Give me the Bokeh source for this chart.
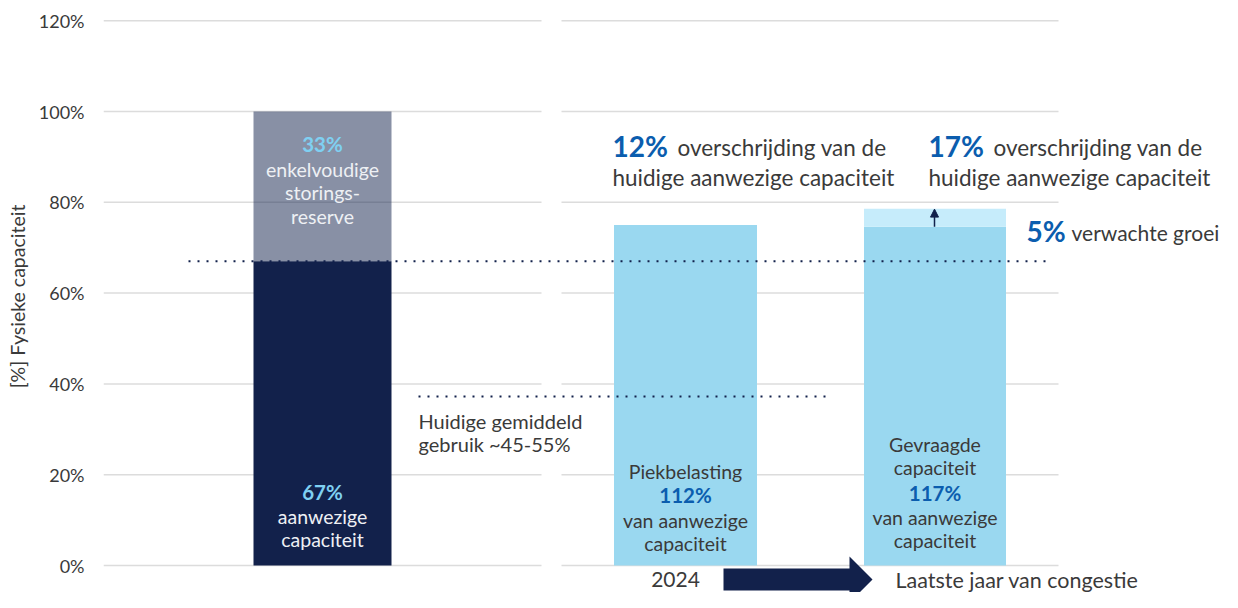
from bokeh.plotting import figure
from bokeh.models import Range1d, FixedTicker, Arrow, NormalHead
from bokeh.core.properties import value
from bokeh.embed import file_html
from bokeh.resources import INLINE

# ---------------- data ----------------
y_ticks = [0, 20, 40, 60, 80, 100, 120]
y_tick_labels = ["0%", "20%", "40%", "60%", "80%", "100%", "120%"]

bar_names = ["Aanwezige capaciteit", "Piekbelasting 2024", "Gevraagde capaciteit"]
available_capacity = [67]          # % of physical capacity
reserve_capacity = [33]            # single-failure reserve
peak_load = [75.0]                 # 112% of available
demand_base = [74.6]
demand_growth = [4.0]              # 5% expected growth
reserve_line = [67, 67]
average_usage_line = [37.2, 37.2]

# ---------------- layout ----------------
FONT = "Lato"
W, H = 1222, 592
Y0_PX, PX_PER_PCT = 565.0, 4.54      # px of 0%, px per 1%
FRAME_LEFT = 103

def Y(px):
    return (Y0_PX - px) / PX_PER_PCT

NAVY = "#12214b"
LIGHT = "#9ad8f0"
LIGHTER = "#c6ecfb"
BLUE_TXT = "#0b5dae"
CYAN_TXT = "#7fd0f2"
GREY_TXT = "#3a3a3a"
WHITE_TXT = "#eef0f4"

p = figure(width=W, height=H, output_backend="svg", toolbar_location=None,
           x_range=Range1d(FRAME_LEFT, W),
           y_range=Range1d(Y(H), Y(0)),
           min_border_left=FRAME_LEFT, min_border_right=0,
           min_border_top=0, min_border_bottom=0)
p.outline_line_color = None
p.xaxis.visible = False
p.xgrid.grid_line_color = None
p.ygrid.grid_line_color = None

ax = p.yaxis[0]
ax.ticker = FixedTicker(ticks=y_ticks)
ax.major_label_overrides = {t: l for t, l in zip(y_ticks, y_tick_labels)}
ax.axis_line_color = None
ax.major_tick_line_color = None
ax.minor_tick_line_color = None
ax.major_label_standoff = 13
ax.major_label_text_font = FONT
ax.major_label_text_font_size = "18px"
ax.major_label_text_color = GREY_TXT
ax.axis_label = "[%] Fysieke capaciteit"
ax.axis_label_text_font = FONT
ax.axis_label_text_font_size = "19.5px"
ax.axis_label_text_font_style = "normal"
ax.axis_label_text_color = GREY_TXT
ax.axis_label_standoff = 7

# gridlines in two segments
p.segment(x0=[103] * len(y_ticks), x1=[541] * len(y_ticks), y0=y_ticks, y1=y_ticks,
          line_color="#dcdcdc", line_width=1.5)
p.segment(x0=[561] * len(y_ticks), x1=[1058] * len(y_ticks), y0=y_ticks, y1=y_ticks,
          line_color="#dcdcdc", line_width=1.5)

# bars
BX = [322, 685, 934.5]
p.vbar(x=[BX[0]], width=138, bottom=0, top=available_capacity, fill_color=NAVY, line_color=None)
p.vbar(x=[BX[0]], width=138, bottom=available_capacity,
       top=[a + r for a, r in zip(available_capacity, reserve_capacity)],
       fill_color=NAVY, fill_alpha=0.5, line_color=None)
p.vbar(x=[BX[1]], width=143, bottom=0, top=peak_load, fill_color=LIGHT, line_color=None)
p.vbar(x=[BX[2]], width=142, bottom=0, top=demand_base, fill_color=LIGHT, line_color=None)
p.vbar(x=[BX[2]], width=142, bottom=demand_base,
       top=[b + g for b, g in zip(demand_base, demand_growth)],
       fill_color=LIGHTER, line_color=None)

# small growth arrow
p.add_layout(Arrow(end=NormalHead(size=8, fill_color=NAVY, line_color=NAVY),
                   x_start=BX[2] - 0.5, y_start=demand_base[0], x_end=BX[2] - 0.5,
                   y_end=demand_base[0] + demand_growth[0] - 0.1,
                   line_color=NAVY, line_width=1.5))

# dotted reference lines
p.line(x=[188, 1047], y=reserve_line, line_color=NAVY, line_width=2, line_dash="2 7")
p.line(x=[418, 826], y=average_usage_line, line_color=NAVY, line_width=2, line_dash="2 7")

# bottom timeline arrow
BOT = 579
p.patch(x=[723, 849, 849, 872, 849, 849, 723],
        y=[Y(BOT - 11), Y(BOT - 11), Y(BOT - 23), Y(BOT), Y(BOT + 23), Y(BOT + 11), Y(BOT + 11)],
        fill_color=NAVY, line_color=None)


def txt(x, ypx, s, size="19.5px", color=GREY_TXT, bold=False, align="center"):
    p.text(x=[x], y=[Y(ypx)], text=[s], text_font=value(FONT),
           text_font_size=value(size), text_color=color,
           text_font_style="bold" if bold else "normal",
           text_align=align, text_baseline="middle")


# bar 1 labels
txt(BX[0], 143, "33%", size="20.5px", color=CYAN_TXT, bold=True)
txt(BX[0], 169, "enkelvoudige", color=WHITE_TXT)
txt(BX[0], 192, "storings-", color=WHITE_TXT)
txt(BX[0], 216, "reserve", color=WHITE_TXT)
txt(BX[0], 491, "67%", size="20.5px", color=CYAN_TXT, bold=True)
txt(BX[0], 516, "aanwezige", color=WHITE_TXT)
txt(BX[0], 539, "capaciteit", color=WHITE_TXT)

# bar 2 labels
txt(BX[1], 471, "Piekbelasting")
txt(BX[1], 494, "112%", size="20.5px", color=BLUE_TXT, bold=True)
txt(BX[1], 520, "van aanwezige")
txt(BX[1], 543, "capaciteit")

# bar 3 labels
txt(BX[2], 444, "Gevraagde")
txt(BX[2], 467, "capaciteit")
txt(BX[2], 492, "117%", size="20.5px", color=BLUE_TXT, bold=True)
txt(BX[2], 517, "van aanwezige")
txt(BX[2], 540, "capaciteit")

# annotations
txt(418, 420, "Huidige gemiddeld", size="20px", align="left")
txt(418, 443, "gebruik ~45-55%", size="20px", align="left")

txt(612, 145, "12%", size="28px", color=BLUE_TXT, bold=True, align="left")
txt(677, 147, "overschrijding van de", size="22.5px", align="left")
txt(612, 177, "huidige aanwezige capaciteit", size="22.5px", align="left")

txt(928, 145, "17%", size="28px", color=BLUE_TXT, bold=True, align="left")
txt(993, 147, "overschrijding van de", size="22.5px", align="left")
txt(928, 177, "huidige aanwezige capaciteit", size="22.5px", align="left")

txt(1026, 230, "5%", size="28px", color=BLUE_TXT, bold=True, align="left")
txt(1071, 232, "verwachte groei", size="21px", align="left")

txt(675, BOT, "2024", size="21px")
txt(895, BOT, "Laatste jaar van congestie", size="21.5px", align="left")

open("out.html", "w").write(file_html(p, INLINE))
